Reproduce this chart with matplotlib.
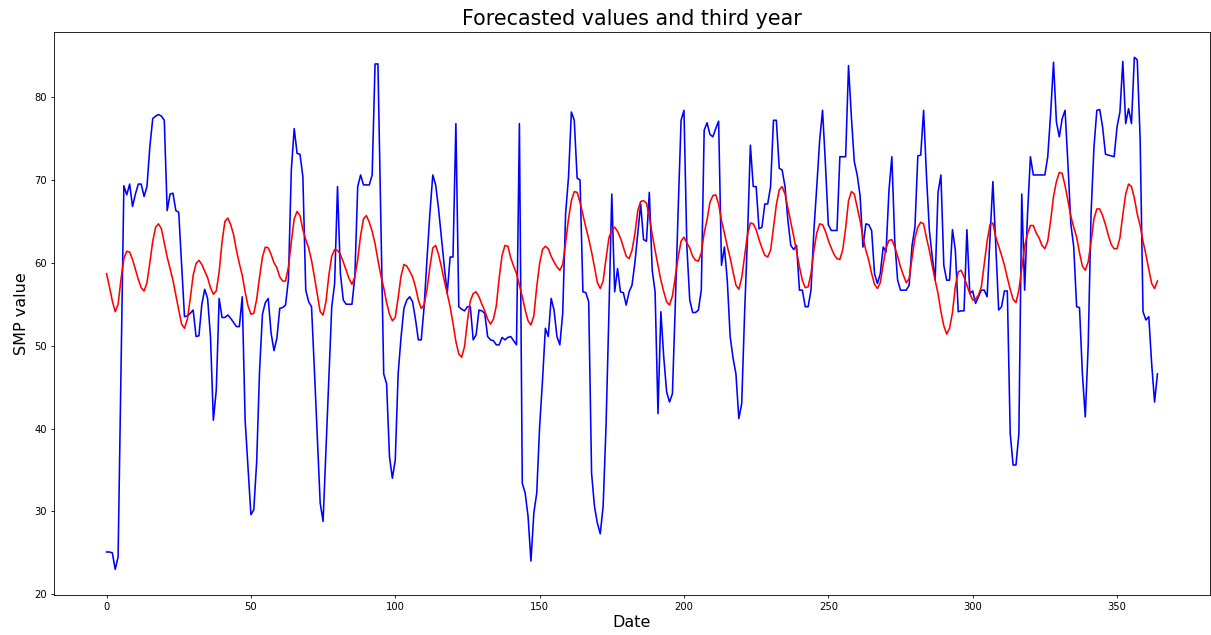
import matplotlib
matplotlib.use("Agg")
import matplotlib.pyplot as plt
import numpy as np

# Actual third-year SMP values (blue), days 0..364
actual = [
    25.1, 25.1, 25.0, 23.0, 24.5, 47.0, 69.3, 68.2, 69.5, 66.8,
    68.3, 69.5, 69.5, 68.0, 69.2, 74.0, 77.4, 77.7, 77.9, 77.7,
    77.2, 66.3, 68.3, 68.4, 66.3, 66.1, 59.8, 53.5, 53.6, 53.9,
    54.3, 51.1, 51.2, 55.0, 56.8, 55.7, 51.1, 41.0, 44.6, 55.7,
    53.4, 53.4, 53.7, 53.3, 52.8, 52.3, 52.3, 55.9, 41.0, 35.4,
    29.6, 30.2, 36.0, 47.0, 53.8, 55.2, 55.7, 51.5, 49.4, 50.9,
    54.5, 54.6, 54.9, 58.0, 71.2, 76.2, 73.2, 73.1, 70.4, 56.7,
    55.3, 54.7, 47.0, 39.0, 31.0, 28.8, 37.5, 46.0, 54.7, 57.5,
    69.2, 58.7, 55.5, 55.0, 55.0, 55.0, 58.3, 69.2, 70.6, 69.4,
    69.4, 69.4, 70.6, 84.0, 84.0, 65.0, 46.6, 45.4, 36.6, 34.0,
    36.2, 46.6, 51.0, 54.5, 55.5, 55.9, 55.3, 53.2, 50.7, 50.7,
    54.7, 60.5, 66.0, 70.6, 69.4, 66.5, 63.0, 59.5, 56.3, 60.7,
    60.7, 76.8, 54.7, 54.4, 54.2, 54.7, 54.7, 50.7, 51.3, 54.3,
    54.2, 53.9, 51.1, 50.7, 50.6, 50.1, 50.1, 51.0, 50.7, 51.0,
    51.1, 50.6, 50.1, 76.8, 33.4, 32.2, 29.4, 24.0, 29.8, 32.2,
    40.2, 45.8, 52.1, 51.1, 55.7, 54.3, 51.1, 50.1, 53.9, 65.9,
    70.3, 78.2, 77.2, 70.2, 70.0, 56.5, 56.4, 55.3, 34.6, 30.6,
    28.6, 27.3, 30.6, 40.2, 53.9, 68.3, 56.5, 59.3, 56.5, 56.4,
    54.9, 56.5, 57.3, 60.0, 63.5, 67.1, 62.8, 62.6, 68.5, 59.1,
    56.5, 41.8, 54.1, 48.6, 44.4, 43.2, 44.2, 55.0, 66.5, 77.2,
    78.4, 62.0, 55.5, 54.0, 54.0, 54.3, 56.7, 76.0, 76.9, 75.5,
    75.2, 76.2, 77.1, 59.7, 61.9, 57.9, 51.1, 48.5, 46.6, 41.2,
    43.0, 53.9, 63.1, 74.2, 69.2, 69.2, 64.1, 64.3, 67.1, 67.1,
    69.2, 77.2, 77.2, 71.4, 71.2, 69.2, 65.1, 62.1, 61.6, 62.1,
    56.7, 56.7, 54.7, 54.7, 56.7, 63.9, 69.2, 74.8, 78.4, 71.9,
    64.6, 63.9, 63.9, 63.9, 72.8, 72.8, 72.8, 83.8, 77.5, 72.2,
    70.6, 68.1, 61.9, 64.7, 64.6, 63.9, 58.7, 57.5, 58.7, 61.9,
    61.3, 68.7, 72.8, 62.7, 57.9, 56.7, 56.7, 56.7, 57.3, 62.1,
    64.3, 72.9, 73.0, 78.4, 70.5, 63.9, 60.7, 57.9, 68.5, 70.6,
    59.7, 57.9, 57.9, 64.0, 61.5, 54.1, 54.2, 54.2, 64.0, 56.3,
    56.6, 55.1, 55.9, 56.7, 56.7, 55.9, 63.1, 69.8, 61.9, 54.3,
    54.7, 56.6, 56.6, 39.4, 35.6, 35.6, 39.4, 68.3, 56.7, 65.9,
    72.8, 70.6, 70.6, 70.6, 70.6, 70.6, 72.8, 78.0, 84.2, 77.0,
    75.2, 77.4, 78.4, 71.9, 64.7, 61.9, 54.7, 54.6, 46.6, 41.4,
    49.9, 65.9, 73.9, 78.4, 78.5, 76.4, 73.1, 73.0, 72.9, 72.8,
    76.4, 78.2, 84.3, 76.8, 78.6, 76.8, 84.8, 84.5, 75.0, 54.1,
    53.1, 53.5, 47.8, 43.2, 46.6,
]

# Forecasted values (red), days 0..364
forecast = [
    58.7, 57.1, 55.4, 54.1, 55.0, 58.0, 60.5, 61.4, 61.3, 60.4,
    59.2, 58.0, 57.0, 56.6, 57.6, 60.0, 62.6, 64.3, 64.7, 64.1,
    62.4, 60.7, 59.3, 57.9, 56.1, 54.3, 52.6, 52.1, 53.2, 55.7,
    58.5, 59.9, 60.3, 59.8, 59.0, 58.2, 57.0, 56.2, 56.6, 58.9,
    62.5, 65.0, 65.4, 64.6, 63.4, 61.5, 59.9, 58.5, 56.5, 54.8,
    53.8, 53.9, 55.6, 58.3, 60.7, 61.9, 61.8, 61.0, 60.0, 59.4,
    58.3, 57.8, 57.8, 59.5, 62.5, 65.3, 66.2, 65.7, 64.0, 62.8,
    61.8, 60.3, 58.3, 56.2, 54.1, 53.7, 55.3, 58.5, 60.8, 61.6,
    61.5, 61.0, 60.1, 59.1, 58.1, 57.4, 58.3, 60.4, 63.3, 65.3,
    65.7, 64.9, 63.8, 62.3, 60.3, 58.5, 57.0, 55.2, 53.8, 53.0,
    53.4, 55.8, 58.4, 59.8, 59.6, 59.0, 58.3, 57.1, 55.5, 54.5,
    54.9, 56.8, 59.5, 61.8, 62.1, 61.0, 59.5, 57.8, 56.3, 54.7,
    52.7, 50.5, 49.0, 48.6, 49.9, 53.0, 55.4, 56.3, 56.5, 55.9,
    55.0, 54.2, 53.2, 52.6, 53.2, 54.8, 58.2, 60.9, 62.1, 62.0,
    60.6, 59.6, 58.7, 57.3, 55.9, 54.3, 53.0, 52.5, 53.6, 57.1,
    59.9, 61.6, 62.0, 61.7, 60.8, 60.1, 59.5, 59.1, 59.8, 62.4,
    65.3, 67.5, 68.6, 68.5, 67.3, 65.8, 64.3, 62.9, 61.3, 59.5,
    57.6, 56.9, 57.8, 60.5, 63.0, 64.0, 64.3, 63.8, 63.0, 61.9,
    60.8, 60.5, 61.5, 63.5, 66.3, 67.4, 67.5, 67.2, 65.6, 63.4,
    61.5, 59.7, 57.9, 56.5, 55.3, 54.9, 56.0, 58.3, 60.7, 62.6,
    63.1, 62.4, 61.8, 60.8, 60.3, 60.2, 61.2, 63.6, 65.2, 67.3,
    68.1, 68.2, 67.1, 65.1, 63.6, 62.0, 60.6, 58.9, 57.3, 56.8,
    58.2, 60.8, 63.4, 64.8, 64.7, 64.0, 62.8, 61.8, 60.9, 60.7,
    61.5, 64.2, 67.0, 68.8, 69.2, 68.3, 66.6, 64.9, 63.2, 61.4,
    59.5, 57.9, 57.0, 57.1, 58.7, 61.5, 63.6, 64.7, 64.6, 63.8,
    62.7, 61.8, 61.0, 60.5, 60.4, 61.6, 64.2, 67.5, 68.6, 68.3,
    66.7, 65.1, 63.1, 61.5, 60.3, 58.7, 57.4, 56.9, 57.6, 59.8,
    61.8, 62.7, 62.8, 61.9, 60.8, 59.5, 58.5, 57.6, 58.1, 60.6,
    63.0, 64.3, 64.9, 64.7, 63.0, 61.5, 59.6, 57.9, 56.3, 54.1,
    52.4, 51.4, 52.1, 54.0, 57.2, 58.9, 59.1, 58.3, 57.3, 56.3,
    55.5, 55.6, 56.1, 57.1, 59.8, 62.6, 64.6, 64.8, 63.1, 62.0,
    60.9, 59.7, 58.2, 56.8, 55.6, 55.2, 56.7, 59.4, 62.0, 63.5,
    64.5, 64.5, 63.6, 63.0, 62.1, 61.7, 62.6, 65.1, 68.0, 69.8,
    70.9, 70.8, 69.3, 67.5, 65.6, 64.3, 63.1, 61.2, 59.6, 59.1,
    60.1, 62.5, 65.3, 66.5, 66.5, 65.7, 64.6, 63.3, 62.2, 61.7,
    61.7, 63.0, 65.8, 68.3, 69.5, 69.2, 67.8, 65.9, 64.5, 62.6,
    61.0, 59.2, 57.5, 56.9, 57.8,
]

days = list(range(len(actual)))
days_f = list(range(len(forecast)))

title = "Forecasted values and third year"
xlabel = "Date"
ylabel = "SMP value"

fig = plt.figure(figsize=(12.11, 6.35), dpi=100)
ax = fig.add_axes([54/1211, 1 - 595/635, (1210 - 54)/1211, (595 - 31.7)/635])

ax.plot(days, actual, color="blue", lw=1.15)
ax.plot(days_f, forecast, color="red", lw=1.15)

ax.set_title(title, fontsize=14.9, pad=4.5)
ax.set_xlabel(xlabel, fontsize=11.5, labelpad=2)
ax.set_ylabel(ylabel, fontsize=11.5, labelpad=4)
ax.tick_params(labelsize=7.2, length=2.5, width=0.6, pad=2.5)
for s in ax.spines.values():
    s.set_linewidth(0.6)

ax.set_xticks([0, 50, 100, 150, 200, 250, 300, 350])
ax.set_yticks([20, 30, 40, 50, 60, 70, 80])

fig.savefig("out.png", dpi=100)
